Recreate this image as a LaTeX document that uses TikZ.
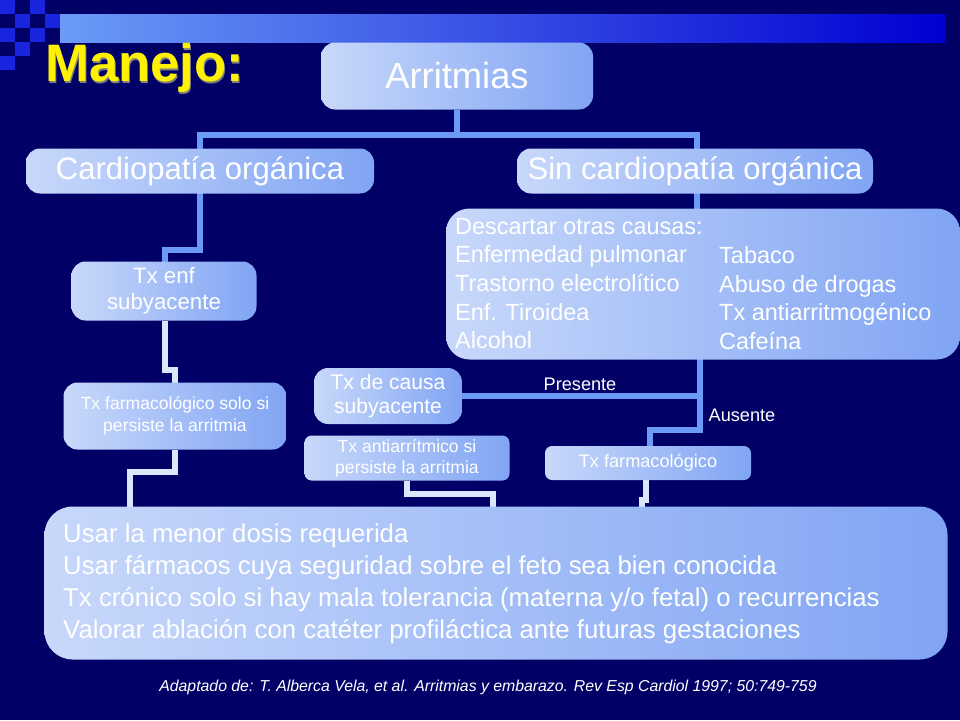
\documentclass[tikz,border=0pt]{standalone}
\usepackage{fontspec}
\setmainfont{Liberation Sans}
\usepackage{tikz}
\usetikzlibrary{positioning,backgrounds,shadows}
\definecolor{navy}{HTML}{000066}
\definecolor{boxlight}{HTML}{C8D8FA}
\definecolor{boxdark}{HTML}{6F98F2}
\definecolor{linkblue}{HTML}{6B9BF7}
\definecolor{linkpale}{HTML}{D8E8FA}
\tikzset{mybox/.style={rounded corners=12pt, shading=axis, left color=boxlight,
    right color=boxdark!80!boxlight, text=white, align=center, inner sep=0pt},
  link/.style={line width=5.5pt, draw=linkblue},
  plink/.style={line width=5.5pt, draw=linkpale}}
\begin{document}
\begin{tikzpicture}[x=0.3mm, y=-0.3mm]
    \fill[navy] (0,0) rectangle (960,720);
    \shade[left color=linkblue, right color=blue!70!navy] (60,14) rectangle (945,42);
    \foreach \i/\j in {0/0, 1/1, 2/0, 0/2, 1/3, 3/1, 2/2, 0/4}
        \fill[blue!70!linkblue, opacity=0.8] (\i*15,\j*14) rectangle ++(15,14);
    \node[text=black!50, font=\bfseries\fontsize{45}{45}\selectfont, anchor=west, inner sep=0pt] at (46,70) {Manejo:};
    \node[text=yellow, font=\bfseries\fontsize{45}{45}\selectfont, anchor=west, inner sep=0pt] (title) at (45,68) {Manejo:};

    % connectors
    \draw[link] (457,110) -- (457,135) -- (200,135) -- (200,150);
    \draw[link] (457,135) -- (697,135) -- (697,150);
    \draw[link] (200,193) -- (200,250) -- (165,250) -- (165,264);
    \draw[link] (697,193) -- (697,211);
    \draw[plink] (165,321) -- (165,370) -- (175,370) -- (175,385);
    \draw[plink] (175,450) -- (175,472) -- (130,472) -- (130,509);
    \draw[link] (462,396) -- (700,396);
    \draw[link] (700,358) -- (700,430) -- (650,430) -- (650,448);
    \draw[plink] (255,424) -- (255,438);
    \draw[plink] (407,481) -- (407,494) -- (493,494) -- (493,509);
    \draw[plink] (646,480) -- (646,500) -- (642,500) -- (642,518);

    % boxes
    \node[mybox, minimum width=272*0.3mm, minimum height=67*0.3mm, font=\fontsize{31}{34}\selectfont] (arr) at (457,76) {Arritmias};
    \node[mybox, minimum width=348*0.3mm, minimum height=45*0.3mm, font=\fontsize{26.5}{28}\selectfont] (cardio) at (200,171) {Cardiopatía orgánica};
    \node[mybox, minimum width=356*0.3mm, minimum height=45*0.3mm, font=\fontsize{26.5}{28}\selectfont] (sincardio) at (695,171) {Sin cardiopatía orgánica};
    \node[mybox, rounded corners=20pt, minimum width=514*0.3mm, minimum height=151*0.3mm] (desc) at (703,284) {};
    \node[text=white, anchor=north west, align=left, inner sep=0pt, font=\fontsize{20}{24.4}\selectfont] (desctxt) at (455,218)
        {Descartar otras causas:\\Enfermedad pulmonar\\Trastorno electrolítico\\Enf. Tiroidea\\Alcohol};
    \node[text=white, anchor=north west, align=left, inner sep=0pt, font=\fontsize{20}{24.4}\selectfont] (desctxt2) at (719,246.5)
        {Tabaco\\Abuso de drogas\\Tx antiarritmogénico\\Cafeína};
    \node[mybox, minimum width=185*0.3mm, minimum height=59*0.3mm, font=\fontsize{19}{22}\selectfont] (enf) at (164,291) {Tx enf\\subyacente};
    \node[mybox, minimum width=223*0.3mm, minimum height=67*0.3mm, font=\fontsize{15}{19}\selectfont] (farmsolo) at (175,416) {Tx farmacológico solo si\\persiste la arritmia};
    \node[mybox, minimum width=148*0.3mm, minimum height=56*0.3mm, font=\fontsize{18}{21}\selectfont] (causa) at (388,396) {Tx de causa\\subyacente};
    \node[mybox, rounded corners=6pt, minimum width=205*0.3mm, minimum height=45*0.3mm, font=\fontsize{15}{18}\selectfont] (antiarr) at (407,458) {Tx antiarrítmico si\\persiste la arritmia};
    \node[mybox, rounded corners=6pt, minimum width=206*0.3mm, minimum height=34*0.3mm, font=\fontsize{15.5}{18}\selectfont] (farm) at (648,463) {Tx farmacológico};
    \node[mybox, rounded corners=24pt, minimum width=903*0.3mm, minimum height=153*0.3mm] (usar) at (496,583) {};
    \node[text=white, anchor=north west, align=left, inner sep=0pt, font=\fontsize{22}{27.2}\selectfont] (usartxt) at (63,524)
        {Usar la menor dosis requerida\\Usar fármacos cuya seguridad sobre el feto sea bien conocida\\Tx crónico solo si hay mala tolerancia (materna y/o fetal) o recurrencias\\Valorar ablación con catéter profiláctica ante futuras gestaciones};

    \node[text=white, font=\fontsize{15.5}{18}\selectfont] (pres) at (580,384) {Presente};
    \node[text=white, font=\fontsize{15.5}{18}\selectfont] (aus) at (742,415) {Ausente};
    \node[text=white, font=\itshape\fontsize{13.5}{16}\selectfont] (ref) at (488,687)
        {Adaptado de: T. Alberca Vela, et al. Arritmias y embarazo. Rev Esp Cardiol 1997; 50:749-759};
\end{tikzpicture}
\end{document}
